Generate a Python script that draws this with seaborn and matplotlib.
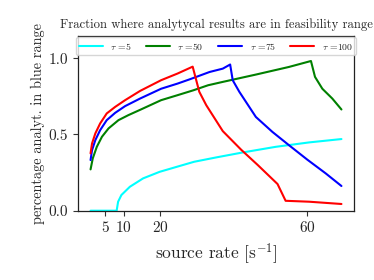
import matplotlib
matplotlib.use("Agg")
import matplotlib.pyplot as plt
import seaborn as sns
import pandas as pd

# ---- data ----
x_tau5 = [1, 8.1, 8.5, 9.4, 11.7, 15.3, 19.8, 25.2, 29.2, 35.3, 42.4, 51.4, 60.5, 69.3]
y_tau5 = [0, 0, 0.059, 0.103, 0.157, 0.212, 0.255, 0.293, 0.321, 0.35, 0.382, 0.419, 0.448, 0.47]

x_tau50 = [1, 1.6, 2.7, 4.1, 5.9, 8.6, 11.3, 14.7, 20.2, 24.7, 29, 33, 37, 46, 55, 61,
           62.1, 64.1, 66.8, 69.3]
y_tau50 = [0.271, 0.343, 0.419, 0.485, 0.54, 0.594, 0.627, 0.664, 0.725, 0.758, 0.79, 0.823,
           0.845, 0.893, 0.943, 0.982, 0.878, 0.80, 0.736, 0.664]

x_tau75 = [1, 1.4, 2.3, 3.6, 5.4, 7.7, 10.4, 14.5, 20.2, 24.7, 28, 33.4, 37, 39, 39.7, 41.5,
           46, 50.5, 55, 60, 65, 69.3]
y_tau75 = [0.332, 0.397, 0.463, 0.528, 0.594, 0.642, 0.686, 0.736, 0.80, 0.834, 0.862, 0.91,
           0.932, 0.959, 0.856, 0.78, 0.615, 0.517, 0.43, 0.335, 0.245, 0.162]

x_tau100 = [1, 1.4, 2.3, 3.6, 5.4, 7.7, 10.4, 14.5, 20.2, 24.7, 28.8, 30.6, 32.5, 37, 42,
            46.5, 51.9, 54.1, 60.5, 69.3]
y_tau100 = [0.376, 0.441, 0.507, 0.572, 0.638, 0.681, 0.725, 0.786, 0.856, 0.90, 0.945, 0.78,
            0.692, 0.522, 0.40, 0.30, 0.175, 0.065, 0.059, 0.044]

labels = [r"$\tau$ =5", r"$\tau$ =50", r"$\tau$ =75", r"$\tau$ =100"]
colors = ["cyan", "green", "blue", "red"]
x_ticks = [5, 10, 20, 60]
y_ticks = [0.0, 0.5, 1.0]

frames = []
for lab, xs, ys in zip(labels, [x_tau5, x_tau50, x_tau75, x_tau100],
                       [y_tau5, y_tau50, y_tau75, y_tau100]):
    frames.append(pd.DataFrame({"x": xs, "y": ys, "series": lab}))
df = pd.concat(frames, ignore_index=True)

sns.set_style("ticks")
plt.rcParams["font.family"] = ["cmr10", "DejaVu Serif"]
plt.rcParams["mathtext.fontset"] = "cm"
plt.rcParams["axes.formatter.use_mathtext"] = True

fig = plt.figure(figsize=(3.74, 2.8), dpi=100)
ax = fig.add_axes([0.2086, 0.2475, 0.7379, 0.6239])

sns.lineplot(data=df, x="x", y="y", hue="series", palette=colors, sort=False,
             estimator=None, linewidth=1.5, ax=ax)

ax.set_ylim(0, 1.146)
ax.set_xticks(x_ticks)
ax.set_yticks(y_ticks)
ax.set_yticklabels(["0.0", "0.5", "1.0"])
ax.tick_params(labelsize=11, length=3.5, width=0.8, color="#333333")
for s in ax.spines.values():
    s.set_color("#222222")
    s.set_linewidth(0.9)

ax.set_title("Fraction where analytycal results are in feasibility range", fontsize=9.1, pad=6)
ax.set_xlabel(r"source rate [s$^{-1}$]", fontsize=12.5, labelpad=4)
ax.set_ylabel("percentage analyt. in blue range", fontsize=10.3, labelpad=3)

leg = ax.legend(loc="upper center", ncol=4, fontsize=7, frameon=True,
                handlelength=2.4, columnspacing=1.5, handletextpad=0.8,
                borderaxespad=0.15, borderpad=0.35, bbox_to_anchor=(0.5, 1.0))
leg.get_frame().set_edgecolor("#cccccc")

fig.savefig("out.png", dpi=100)
